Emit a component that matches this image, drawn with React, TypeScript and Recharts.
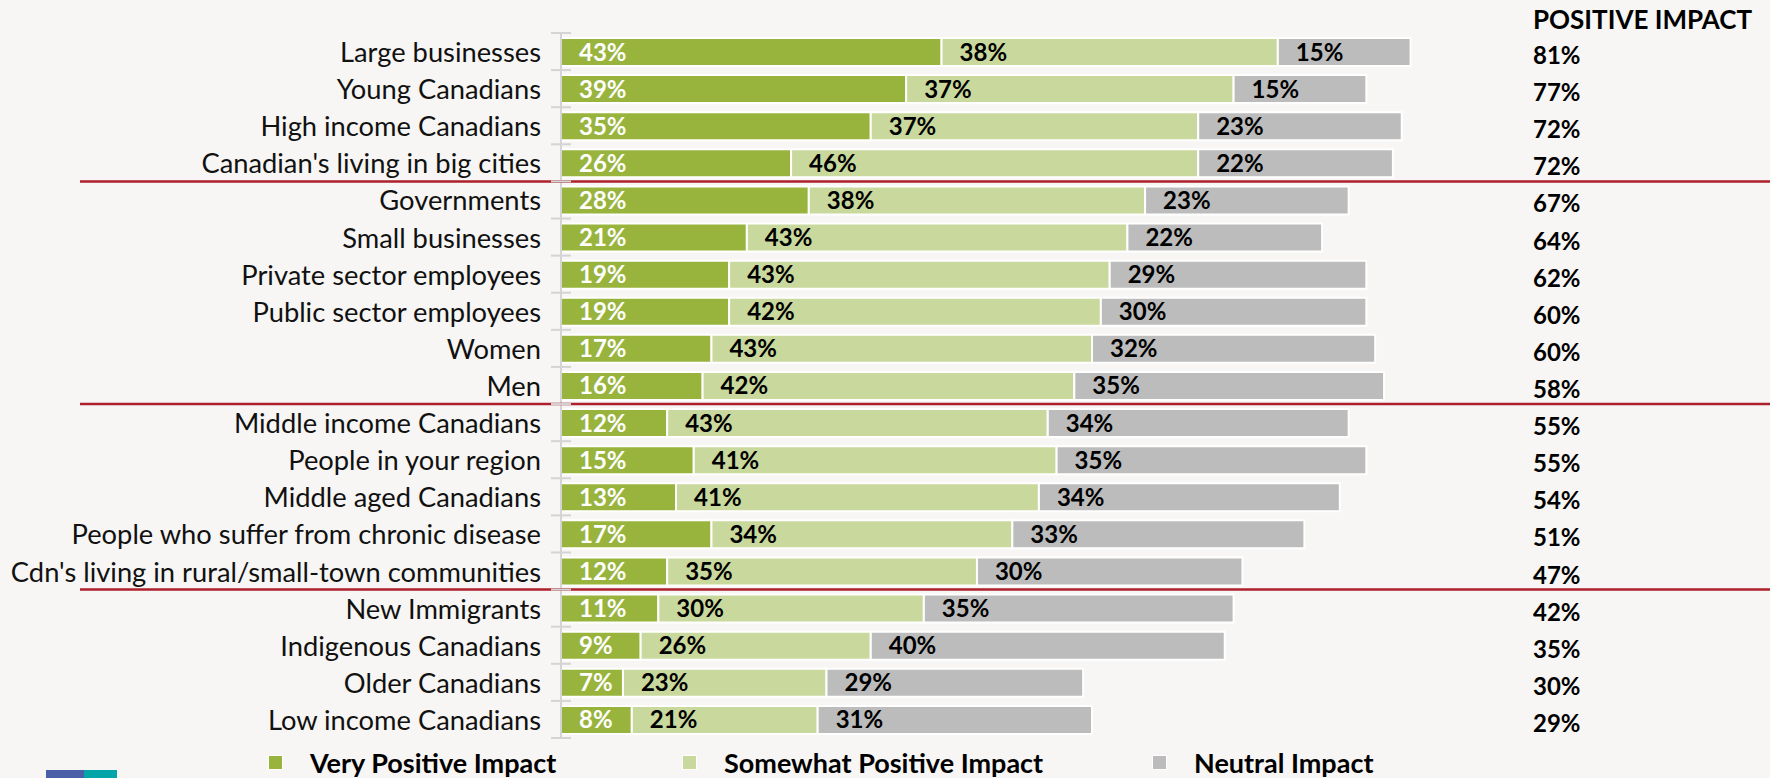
import { BarChart, Bar, XAxis, YAxis, LabelList } from "recharts";

// Survey: perceived impact by group (stacked %)
const CATEGORIES = [
  "Large businesses",
  "Young Canadians",
  "High income Canadians",
  "Canadian's living in big cities",
  "Governments",
  "Small businesses",
  "Private sector employees",
  "Public sector employees",
  "Women",
  "Men",
  "Middle income Canadians",
  "People in your region",
  "Middle aged Canadians",
  "People who suffer from chronic disease",
  "Cdn's living in rural/small-town communities",
  "New Immigrants",
  "Indigenous Canadians",
  "Older Canadians",
  "Low income Canadians",
];
const VERY_POSITIVE = [43, 39, 35, 26, 28, 21, 19, 19, 17, 16, 12, 15, 13, 17, 12, 11, 9, 7, 8];
const SOMEWHAT_POSITIVE = [38, 37, 37, 46, 38, 43, 43, 42, 43, 42, 43, 41, 41, 34, 35, 30, 26, 23, 21];
const NEUTRAL = [15, 15, 23, 22, 23, 22, 29, 30, 32, 35, 34, 35, 34, 33, 30, 35, 40, 29, 31];
const POSITIVE_IMPACT = [81, 77, 72, 72, 67, 64, 62, 60, 60, 58, 55, 55, 54, 51, 47, 42, 35, 30, 29];
// last category of each group, a red rule is drawn under it
const GROUP_ENDS = [
  "Canadian's living in big cities",
  "Men",
  "Cdn's living in rural/small-town communities",
];

const SERIES = [
  { key: "vp", name: "Very Positive Impact", color: "#98b43d", text: "#ffffff" },
  { key: "sp", name: "Somewhat Positive Impact", color: "#c9d89c", text: "#000000" },
  { key: "ne", name: "Neutral Impact", color: "#bcbcbc", text: "#000000" },
];

const W = 1770;
const H = 778;
const MARGIN = { top: 33, right: 0, bottom: 40, left: 0 };
const BAND = (H - MARGIN.top - MARGIN.bottom) / CATEGORIES.length;
const FONT = "Lato, 'Open Sans', sans-serif";

const data = CATEGORIES.map((name, i) => ({
  name,
  vp: VERY_POSITIVE[i],
  sp: SOMEWHAT_POSITIVE[i],
  ne: NEUTRAL[i],
}));

function CategoryTick(props: any) {
  const { x, y, payload, index } = props;
  const half = BAND / 2;
  const isLast = index === CATEGORIES.length - 1;
  return (
    <g>
      <text
        x={x - 20}
        y={y}
        textAnchor="end"
        dominantBaseline="central"
        fontFamily={FONT}
        fontSize={27.3}
        fill="#111"
      >
        {payload.value}
      </text>
      <line x1={x - 10} x2={x + 10} y1={y - half} y2={y - half} stroke="#d4d4d4" strokeWidth={2} />
      {isLast && (
        <line x1={x - 10} x2={x + 10} y1={y + half} y2={y + half} stroke="#d4d4d4" strokeWidth={2} />
      )}
      {GROUP_ENDS.includes(payload.value) && (
        <line x1={80} x2={W} y1={y + half} y2={y + half} stroke="#ad1f2b" strokeWidth={2.5} />
      )}
    </g>
  );
}

function PositiveTick(props: any) {
  const { x, y, index } = props;
  return (
    <text
      x={x + 87}
      y={y + 3}
      textAnchor="start"
      dominantBaseline="central"
      fontFamily={FONT}
      fontWeight={700}
      fontSize={24}
      fill="#000"
    >
      {POSITIVE_IMPACT[index]}%
    </text>
  );
}

const LEGEND_X = [268, 682, 1152];

export default function App() {
  return (
    <div
      style={{
        position: "absolute",
        top: 0,
        left: 0,
        width: W,
        height: H,
        background: "#f7f6f4",
        overflow: "hidden",
        fontFamily: FONT,
      }}
    >
      <BarChart width={W} height={H} data={data} layout="vertical" margin={MARGIN}>
        <XAxis type="number" domain={[0, 100]} hide />
        <YAxis
          yAxisId="left"
          type="category"
          dataKey="name"
          width={561}
          axisLine={{ stroke: "#d4d4d4", strokeWidth: 2 }}
          tickLine={false}
          tickSize={0}
          tickMargin={0}
          tick={<CategoryTick />}
          interval={0}
        />
        <YAxis
          yAxisId="right"
          orientation="right"
          type="category"
          dataKey="name"
          width={324}
          axisLine={false}
          tickLine={false}
          tickSize={0}
          tickMargin={0}
          tick={<PositiveTick />}
          interval={0}
        />
        {SERIES.map((s) => (
          <Bar
            key={s.key}
            yAxisId="left"
            dataKey={s.key}
            name={s.name}
            stackId="a"
            fill={s.color}
            stroke="#ffffff"
            strokeWidth={2}
            barSize={28}
            isAnimationActive={false}
          >
            <LabelList
              dataKey={s.key}
              position="insideLeft"
              offset={18}
              formatter={(v: any) => `${v}%`}
              fill={s.text}
              fontFamily={FONT}
              fontWeight={700}
              fontSize={24}
            />
          </Bar>
        ))}
      </BarChart>

      <div
        style={{
          position: "absolute",
          left: 1533,
          top: 3,
          fontSize: 26,
          fontWeight: 700,
          color: "#000",
          whiteSpace: "nowrap",
        }}
      >
        POSITIVE IMPACT
      </div>

      {SERIES.map((s, i) => (
        <div
          key={s.key}
          style={{
            position: "absolute",
            left: LEGEND_X[i],
            top: 746,
            display: "flex",
            alignItems: "center",
            whiteSpace: "nowrap",
          }}
        >
          <span
            style={{
              display: "inline-block",
              width: 13,
              height: 13,
              background: s.color,
              border: "1.5px solid #fff",
            }}
          />
          <span style={{ marginLeft: 27, fontSize: 27, fontWeight: 700, color: "#000" }}>
            {s.name}
          </span>
        </div>
      ))}

      {/* logo fragment at bottom-left */}
      <div style={{ position: "absolute", left: 46, top: 770, width: 38, height: 10, background: "#4b5ea8" }} />
      <div style={{ position: "absolute", left: 84, top: 770, width: 33, height: 10, background: "#02a6a9" }} />
    </div>
  );
}
